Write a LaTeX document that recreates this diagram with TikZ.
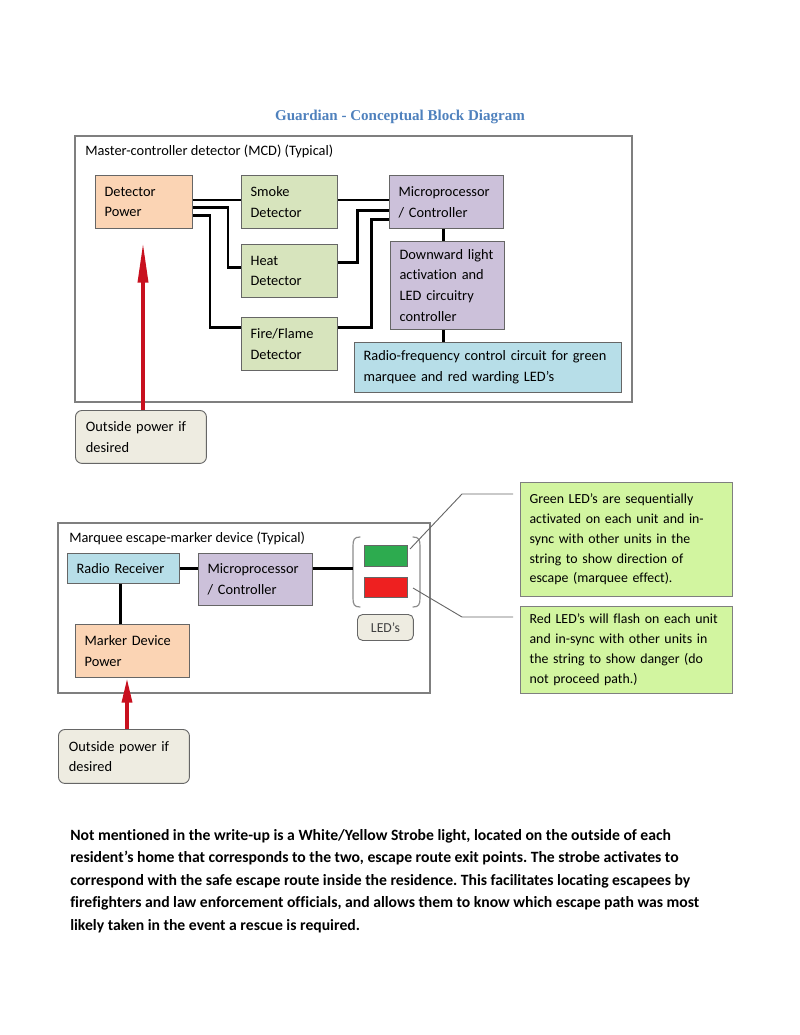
\documentclass[tikz,border=0pt]{standalone}
\usepackage{fontspec}
\setmainfont[Ligatures=NoCommon]{Carlito}
\newfontfamily\titlefont{Liberation Serif}
\usetikzlibrary{arrows.meta,calc}
\frenchspacing
\definecolor{peach}{HTML}{FBD4B4}
\definecolor{sage}{HTML}{D7E4BD}
\definecolor{lilac}{HTML}{CCC1DA}
\definecolor{skyb}{HTML}{B7DEE8}
\definecolor{tan}{HTML}{EEECE1}
\definecolor{callg}{HTML}{D2F5A0}
\definecolor{ledg}{HTML}{2DAB4F}
\definecolor{ledr}{HTML}{EE2020}
\definecolor{arrowred}{HTML}{C8101E}
\definecolor{titleblue}{HTML}{4F81BD}
\definecolor{frame}{HTML}{7F7F7F}
\tikzset{
  blk/.style={draw=black!60, line width=0.7pt, anchor=north west, inner xsep=7pt, inner ysep=0pt,
    align=left, font=\fontsize{11}{16}\selectfont, minimum height=40.5pt},
  callout/.style={draw=frame, line width=0.7pt, fill=callg, anchor=north west, inner xsep=7pt,
    inner ysep=0pt, align=left, font=\fontsize{10.6}{15.2}\selectfont, text width=148.2pt, minimum width=162.2pt},
  rbox/.style={draw=black!60, line width=0.7pt, fill=tan, rounded corners=5pt, anchor=north west,
    inner xsep=8pt, inner ysep=0pt, align=left, font=\fontsize{11}{15.5}\selectfont,
    text width=84.2pt, minimum width=100.2pt},
  container/.style={draw=frame, line width=0.8pt},
  wire/.style={line width=2.1pt, black},
  redarrow/.style={line width=3pt, arrowred},
  leader/.style={draw=black!60, line width=0.7pt},
  bracketline/.style={draw=black!45, line width=0.9pt, line cap=round},
}
\begin{document}
\begin{tikzpicture}[x=0.765pt, y=-0.765pt]
\useasboundingbox (0,0) rectangle (800,1035);

% title
\node[font=\titlefont\bfseries\fontsize{11.5}{14}\selectfont, text=titleblue] (title) at (400,117) {Guardian - Conceptual Block Diagram};

% ---------- MCD ----------
\draw[container] (75,136) rectangle (632,402);
\node[anchor=west, inner sep=0pt, font=\fontsize{11}{13}\selectfont] (mcdlabel) at (85,151) {Master-controller detector (MCD) (Typical)};

\node[blk, fill=peach, text width=60.2pt, minimum width=74.2pt] (pow) at (95,175) {Detector\\Power};
\node[blk, fill=sage, text width=59.4pt, minimum width=73.4pt] (smoke) at (241,175) {Smoke\\Detector};
\node[blk, fill=sage, text width=59.4pt, minimum width=73.4pt] (heat) at (241,244) {Heat\\Detector};
\node[blk, fill=sage, text width=59.4pt, minimum width=73.4pt] (fire) at (241,317) {Fire/Flame\\Detector};
\node[blk, fill=lilac, text width=73.2pt, minimum width=87.2pt] (micro) at (389,175) {\mbox{Microprocessor}\\/ Controller};
\node[blk, fill=lilac, text width=73.2pt, minimum width=87.2pt, minimum height=67.3pt] (down) at (390,241) {\mbox{Downward light}\\activation and\\LED circuitry\\controller};
\node[blk, fill=skyb, text width=190.3pt, minimum width=204.3pt, minimum height=38.3pt] (rf) at (354,342) {\mbox{Radio-frequency control circuit for green}\\marquee and red warding LED’s};

% wires
\draw[wire] ([yshift=1.5pt]pow.east) -- ([yshift=1.5pt]smoke.west);
\draw[wire] ([yshift=-4.2pt]pow.east) -- ++(35,0) |- ([yshift=2.7pt]heat.west);
\draw[wire] ([yshift=-10.3pt]pow.east) -- ++(17,0) |- ([yshift=12.6pt]fire.west);
\draw[wire] ([yshift=1.5pt]smoke.east) -- ([yshift=1.5pt]micro.west);
\draw[wire] ([yshift=6.5pt]heat.east) -- ++(20,0) |- ([yshift=-6.5pt]micro.west);
\draw[wire] ([yshift=12.6pt]fire.east) -- ++(34,0) |- ([yshift=-13.4pt]micro.west);
\draw[wire] ([xshift=-2pt]micro.south) -- ([xshift=-2pt]micro.south |- down.north);
\draw[wire] ([xshift=-3pt]down.south) -- ([xshift=-3pt]down.south |- rf.north);

% outside power 1
\node[rbox, minimum height=40.5pt] (out1) at (75,410) {Outside power if\\desired};
\coordinate (tip1) at (143,242);
\draw[redarrow, -{Triangle[length=31pt, width=7.5pt]}] (tip1 |- out1.north) -- (tip1);

% ---------- Marquee ----------
\draw[container] (58,523) rectangle (430,693);
\node[anchor=west, inner sep=0pt, font=\fontsize{11}{13}\selectfont] (mqlabel) at (69,538) {Marquee escape-marker device (Typical)};

\node[blk, fill=skyb, text width=71.7pt, minimum width=85.7pt, minimum height=23pt] (radio) at (67,553) {Radio Receiver};
\node[blk, fill=lilac, text width=73.2pt, minimum width=87.2pt, minimum height=39.8pt] (micro2) at (198,553) {\mbox{Microprocessor}\\/ Controller};
\node[blk, fill=peach, text width=73.2pt, minimum width=87.2pt] (marker) at (75,624) {Marker Device\\Power};

\node[draw=black!60, line width=0.6pt, fill=ledg, anchor=north west, minimum width=32.9pt, minimum height=16.1pt, inner sep=0pt] (gled) at (364,545) {};
\node[draw=black!60, line width=0.6pt, fill=ledr, anchor=north west, minimum width=32.9pt, minimum height=15.3pt, inner sep=0pt] (rled) at (364,577) {};
\node[draw=black!60, line width=0.7pt, fill=tan, rounded corners=4pt, anchor=north west, minimum width=42.8pt, minimum height=19.9pt, inner sep=0pt, font=\fontsize{10.5}{12}\selectfont, text=black!75] (ledlbl) at (357,614) {LED’s};

% brackets
\draw[bracketline] (360,537) .. controls (354,537) and (353,540) .. (353,546) -- (353,598) .. controls (353,604) and (354,607) .. (360,607);
\draw[bracketline] (413,537) .. controls (419,537) and (420,540) .. (420,546) -- (420,598) .. controls (420,604) and (419,607) .. (413,607);
\coordinate (brl) at (353,569);

\draw[wire] (radio.east) -- (micro2.west |- radio.east);
\draw[wire] (micro2.east |- radio.east) -- (brl |- radio.east);
\draw[wire] ([xshift=-2.3pt]radio.south) -- ([xshift=-2.3pt]radio.south |- marker.north);

% outside power 2
\node[rbox, minimum height=41.3pt] (out2) at (58,729) {Outside power if\\desired};
\coordinate (a2) at (127,0);
\draw[redarrow, -{Triangle[length=19pt, width=7.5pt]}] (a2 |- out2.north) -- (a2 |- marker.south);

% callouts
\node[callout, minimum height=87.2pt] (gcall) at (520,482) {Green LED’s are sequentially\\activated on each unit and in-\\sync with other units in the\\string to show direction of\\escape (marquee effect).};
\node[callout, minimum height=66.6pt] (rcall) at (520,606) {\mbox{Red LED’s will flash on each unit}\\and in-sync with other units in\\the string to show danger (do\\not proceed path.)};
\coordinate (g2) at (462,494);
\coordinate (g3) at (410,549);
\coordinate (r2) at (462,617);
\coordinate (r3) at (413,588);
\draw[leader] ($(gcall.north west)+(-7,12)$) -- (g2) -- (g3);
\draw[leader] ($(rcall.north west)+(-7,11)$) -- (r2) -- (r3);

% paragraph
\node[anchor=north west, inner sep=0pt, align=left, font=\bfseries\fontsize{12}{17.2}\selectfont] (para) at (70,829) {Not mentioned in the write-up is a White/Yellow Strobe light, located on the outside of each\\resident’s home that corresponds to the two, escape route exit points. The strobe activates to\\correspond with the safe escape route inside the residence. This facilitates locating escapees by\\firefighters and law enforcement officials, and allows them to know which escape path was most\\likely taken in the event a rescue is required.};
\end{tikzpicture}
\end{document}
